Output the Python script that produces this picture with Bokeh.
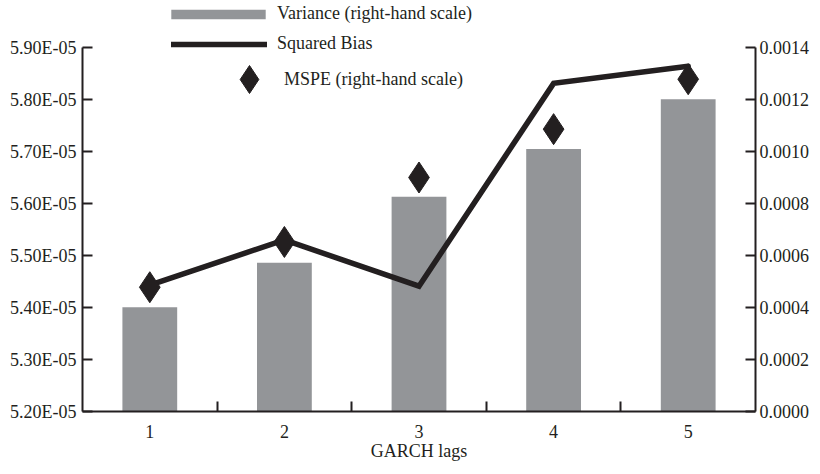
from bokeh.plotting import figure
from bokeh.models import Range1d, LinearAxis, FixedTicker, Legend, LegendItem, ColumnDataSource
from bokeh.embed import file_html
from bokeh.resources import INLINE

# ---- data ----
lags = [1, 2, 3, 4, 5]
lag_labels = ["1", "2", "3", "4", "5"]
variance = [0.000401, 0.000572, 0.000826, 0.001010, 0.001201]
squared_bias = [5.443e-05, 5.530e-05, 5.441e-05, 5.831e-05, 5.864e-05]
mspe = [0.000478, 0.000652, 0.000900, 0.001086, 0.001278]

left_ticks = [5.2e-05, 5.3e-05, 5.4e-05, 5.5e-05, 5.6e-05, 5.7e-05, 5.8e-05, 5.9e-05]
left_tick_labels = ["5.20E-05", "5.30E-05", "5.40E-05", "5.50E-05",
                    "5.60E-05", "5.70E-05", "5.80E-05", "5.90E-05"]
right_ticks = [0.0, 0.0002, 0.0004, 0.0006, 0.0008, 0.0010, 0.0012, 0.0014]
right_tick_labels = ["0.0000", "0.0002", "0.0004", "0.0006",
                     "0.0008", "0.0010", "0.0012", "0.0014"]

series_names = ["Variance (right-hand scale)", "Squared Bias", "MSPE (right-hand scale)"]
x_title = "GARCH lags"

INK = "#231f20"
GRAY = "#939598"
FONT = "Liberation Serif"

# layout: frame spans the full height so the legend (drawn inside the frame) is not clipped;
# the axes themselves are bounded to the tick range.
FRAME_H = 411
AXIS_SPAN = 364  # pixels between lowest and highest tick
head = (FRAME_H - AXIS_SPAN) / AXIS_SPAN

src = ColumnDataSource(dict(lag=lags, variance=variance, bias=squared_bias, mspe=mspe))

lo, hi = left_ticks[0], left_ticks[-1]
rlo, rhi = right_ticks[0], right_ticks[-1]
p = figure(width=812, height=466,
           x_range=Range1d(0.5, 5.5), y_range=Range1d(lo, hi + (hi - lo) * head),
           x_axis_type=None, y_axis_type=None,
           output_backend="svg", toolbar_location=None,
           min_border_left=82, min_border_right=0, min_border_top=0, min_border_bottom=55)
p.outline_line_color = None
p.extra_y_ranges = {"right": Range1d(rlo, rhi + (rhi - rlo) * head)}

bars = p.vbar(x="lag", top="variance", bottom=0, width=0.407, y_range_name="right",
              fill_color=GRAY, line_color=None, source=src)
line = p.line(x="lag", y="bias", line_width=5.5, line_color=INK, line_join="miter",
              line_cap="round", source=src)
dots = p.scatter(x="lag", y="mspe", marker="diamond", size=31, fill_color=INK,
                 line_color=INK, y_range_name="right", source=src)


def style_axis(ax):
    ax.axis_line_width = 2
    ax.axis_line_color = INK
    ax.major_tick_line_width = 2
    ax.major_tick_line_color = INK
    ax.minor_tick_line_width = 2
    ax.minor_tick_line_color = INK
    ax.major_label_text_font = FONT
    ax.major_label_text_font_size = "18px"
    ax.major_label_text_color = INK
    ax.axis_label_text_font = FONT
    ax.axis_label_text_font_size = "18px"
    ax.axis_label_text_font_style = "normal"
    ax.axis_label_text_color = INK


left = LinearAxis(ticker=FixedTicker(ticks=left_ticks), bounds=(lo, hi),
                  major_label_overrides=dict(zip(left_ticks, left_tick_labels)))
style_axis(left)
left.major_tick_in = 10
left.major_tick_out = 0
left.minor_tick_in = 0
left.minor_tick_out = 0
left.major_label_standoff = 6
p.add_layout(left, "left")

right = LinearAxis(y_range_name="right", ticker=FixedTicker(ticks=right_ticks), bounds=(rlo, rhi),
                   major_label_overrides=dict(zip(right_ticks, right_tick_labels)))
style_axis(right)
right.major_tick_in = 10
right.major_tick_out = 0
right.minor_tick_in = 0
right.minor_tick_out = 0
right.major_label_standoff = 4
p.add_layout(right, "right")

bottom = LinearAxis(ticker=FixedTicker(ticks=lags, minor_ticks=[l + 0.5 for l in lags[:-1]]),
                    major_label_overrides=dict(zip(lags, lag_labels)),
                    axis_label=x_title)
style_axis(bottom)
bottom.major_tick_in = 0
bottom.major_tick_out = 0
bottom.minor_tick_in = 10
bottom.minor_tick_out = 0
bottom.major_label_standoff = 13
bottom.axis_label_standoff = 0
p.add_layout(bottom, "below")


def make_legend(label, renderer, loc, gw, gh, standoff):
    lg = Legend(items=[LegendItem(label=label, renderers=[renderer])], location=loc,
                glyph_width=gw, glyph_height=gh, label_standoff=standoff,
                border_line_color=None, background_fill_alpha=0, padding=0, margin=0,
                spacing=0, label_text_font=FONT, label_text_font_size="18px",
                label_text_color=INK, label_height=12)
    p.add_layout(lg)
    return lg


make_legend(series_names[0], bars, (77, 387), 118, 12, 0)
make_legend(series_names[1], line, (89, 357), 96, 20, 10)
make_legend(series_names[2], dots, (132, 297), 70, 70, 0)

open("out.html", "w").write(file_html(p, INLINE))
